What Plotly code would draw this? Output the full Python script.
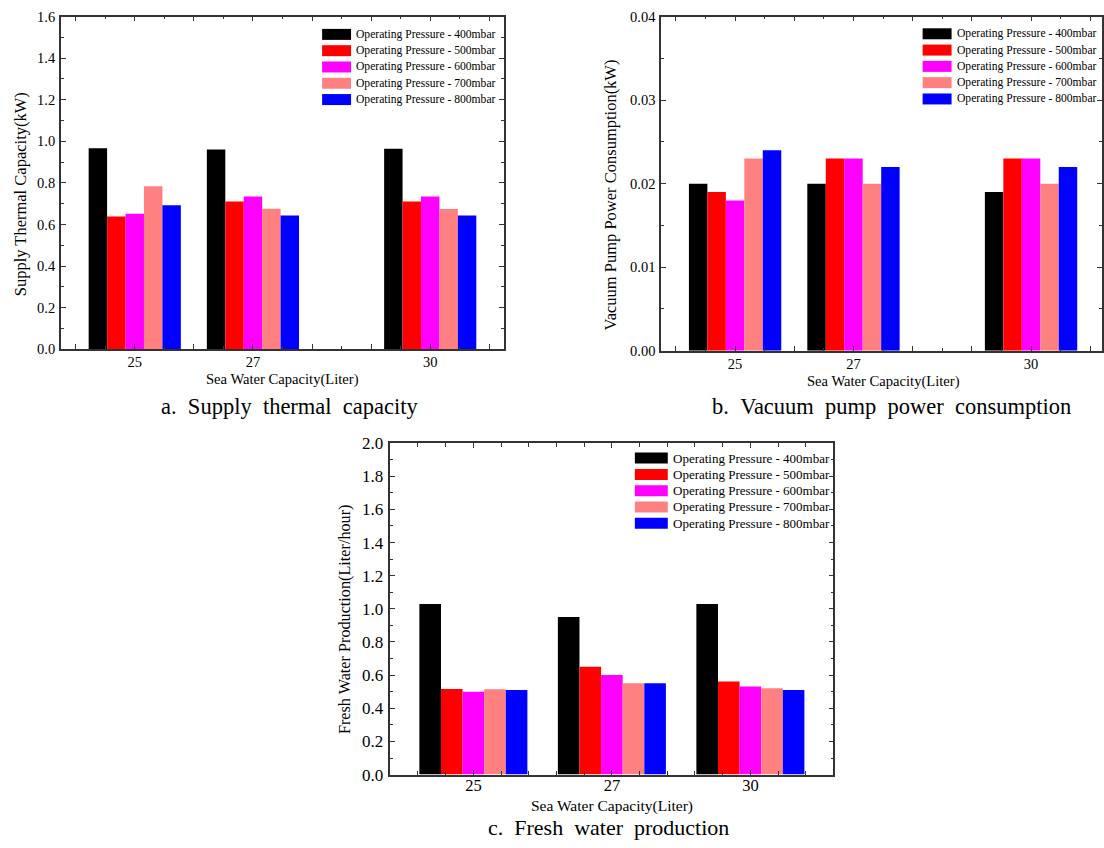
import plotly.graph_objects as go

W, H = 1104, 848

# ---------------- data ----------------
categories = [25, 27, 30]
series_names = [
    "Operating Pressure - 400mbar",
    "Operating Pressure - 500mbar",
    "Operating Pressure - 600mbar",
    "Operating Pressure - 700mbar",
    "Operating Pressure - 800mbar",
]
colors = ["#000000", "#FF0000", "#FF00FF", "#FF8080", "#0000FF"]

supply_400 = [0.967, 0.960, 0.964]
supply_500 = [0.638, 0.710, 0.710]
supply_600 = [0.652, 0.734, 0.734]
supply_700 = [0.784, 0.676, 0.674]
supply_800 = [0.692, 0.643, 0.643]

vacuum_400 = [0.020, 0.020, 0.019]
vacuum_500 = [0.019, 0.023, 0.023]
vacuum_600 = [0.018, 0.023, 0.023]
vacuum_700 = [0.023, 0.020, 0.020]
vacuum_800 = [0.024, 0.022, 0.022]

fresh_400 = [1.030, 0.951, 1.030]
fresh_500 = [0.516, 0.651, 0.561]
fresh_600 = [0.500, 0.601, 0.531]
fresh_700 = [0.515, 0.551, 0.521]
fresh_800 = [0.510, 0.551, 0.510]

supply = [supply_400, supply_500, supply_600, supply_700, supply_800]
vacuum = [vacuum_400, vacuum_500, vacuum_600, vacuum_700, vacuum_800]
fresh = [fresh_400, fresh_500, fresh_600, fresh_700, fresh_800]

FONT = "Liberation Serif"
AX = "#333333"

# vertical layout calibration (page is shown slightly offset/compressed)
Y_OFF, Y_SCALE = 7.4, 0.978


def fx(p):
    return p / W


def fy(p):
    return 1 - ((p - Y_OFF) / Y_SCALE) / H


fig = go.Figure()

cat_index = list(range(len(categories)))

for vals, name, col in zip(supply, series_names, colors):
    fig.add_trace(go.Bar(x=categories, y=vals, name=name, marker_color=col,
                         marker_line_width=0, xaxis="x", yaxis="y", showlegend=False))
for vals, name, col in zip(vacuum, series_names, colors):
    fig.add_trace(go.Bar(x=categories, y=vals, name=name, marker_color=col,
                         marker_line_width=0, xaxis="x2", yaxis="y2", showlegend=False))
for vals, name, col in zip(fresh, series_names, colors):
    fig.add_trace(go.Bar(x=cat_index, y=vals, name=name, marker_color=col,
                         marker_line_width=0, xaxis="x3", yaxis="y3", showlegend=False))


def axis_common(size, standoff):
    return dict(showline=True, linecolor=AX, linewidth=1.5, mirror="ticks",
                ticks="inside", tickcolor=AX, tickwidth=1.2, ticklen=5,
                showgrid=False, zeroline=False, ticklabelstandoff=standoff,
                tickfont=dict(family=FONT, size=size, color="#000"))


int_ticks = list(range(24, 32))
int_text = [str(v) if v in categories else "" for v in int_ticks]

fig.update_layout(
    xaxis=dict(domain=[fx(61), fx(505)], anchor="y", range=[23.75, 31.25],
               tickvals=int_ticks, ticktext=int_text,
               minor=dict(dtick=0.5, tick0=24, ticks="inside", ticklen=3, tickcolor=AX),
               **axis_common(14.5, -1)),
    yaxis=dict(domain=[fy(347.7), fy(15)], anchor="x", range=[0, 1.6], dtick=0.2,
               tickformat=".1f",
               minor=dict(dtick=0.1, ticks="inside", ticklen=3, tickcolor=AX),
               **axis_common(14.5, 1)),
    xaxis2=dict(domain=[fx(662.3), 1.0], anchor="y2",
                range=[23.75, 23.75 + (W - 662.3) / 59.3],
                tickvals=int_ticks, ticktext=int_text,
                minor=dict(dtick=0.5, tick0=24, ticks="inside", ticklen=3, tickcolor=AX),
                **axis_common(14.5, -1)),
    yaxis2=dict(domain=[fy(349.3), fy(15)], anchor="x2", range=[0, 0.04], dtick=0.01,
                tickformat=".2f",
                minor=dict(dtick=0.005, ticks="inside", ticklen=3, tickcolor=AX),
                **axis_common(14.5, 1)),
    xaxis3=dict(domain=[fx(391), fx(835)], anchor="y3", range=[-0.6, 2.6],
                tickvals=cat_index, ticktext=[str(c) for c in categories],
                minor=dict(dtick=0.2, tick0=0, ticks="inside", ticklen=4, tickcolor=AX),
                **axis_common(16.5, -5)),
    yaxis3=dict(domain=[fy(773.3), fy(441.7)], anchor="x3", range=[0, 2.0], dtick=0.2,
                tickformat=".1f",
                minor=dict(dtick=0.1, ticks="inside", ticklen=3, tickcolor=AX),
                **axis_common(17, 2)),
)

annotations = []
shapes = []


def text(x, y, s, size, angle=0, xanchor="center"):
    annotations.append(dict(x=fx(x), y=fy(y), xref="paper", yref="paper", text=s,
                            showarrow=False, textangle=angle, xanchor=xanchor,
                            yanchor="middle",
                            font=dict(family=FONT, size=size, color="#000")))


# axis titles
text(283, 378.4, "Sea Water Capacity(Liter)", 14.6)
text(884.7, 380, "Sea Water Capacity(Liter)", 14.6)
text(613.5, 805, "Sea Water Capacity(Liter)", 15.5)
text(20.3, 192.5, "Supply Thermal Capacity(kW)", 16.5, angle=-90)
text(611.7, 193.3, "Vacuum Pump Power Consumption(kW)", 16.5, angle=-90)
text(345, 618.3, "Fresh Water Production(Liter/hour)", 16.2, angle=-90)

# captions
SP = "\u00a0\u00a0"
text(291, 405.4, SP.join(["a.", "Supply", "thermal", "capacity"]), 22.5)
text(893, 405.4, SP.join(["b.", "Vacuum", "pump", "power", "consumption"]), 22.5)
annotations.append(dict(x=fx(610), y=0.0, xref="paper", yref="paper", yshift=-4,
                        text=SP.join(["c.", "Fresh", "water", "production"]),
                        showarrow=False, xanchor="center", yanchor="bottom",
                        font=dict(family=FONT, size=22, color="#000")))

# legends (swatch + label)
legend_specs = [
    (322.7, 351.7, 355.0, 32.8, 16.3, 11, 11.6),
    (924.3, 953.3, 956.7, 32.2, 16.3, 11, 11.6),
    (636.0, 669.0, 672.7, 456.7, 16.3, 11, 13.0),
]
for x0, x1, xt, yc0, dy, bh, fs in legend_specs:
    for i, (name, col) in enumerate(zip(series_names, colors)):
        yc = yc0 + i * dy
        shapes.append(dict(type="rect", xref="paper", yref="paper",
                           x0=fx(x0), x1=fx(x1), y0=fy(yc + bh / 2), y1=fy(yc - bh / 2),
                           fillcolor=col, line=dict(width=0)))
        text(xt, yc, name, fs, xanchor="left")

fig.update_layout(
    width=W, height=H, margin=dict(l=0, r=0, t=0, b=0),
    paper_bgcolor="white", plot_bgcolor="white",
    barmode="group", bargap=0.22, bargroupgap=0,
    annotations=annotations, shapes=shapes,
    font=dict(family=FONT, color="#000"),
)

fig.write_html("out.html")
